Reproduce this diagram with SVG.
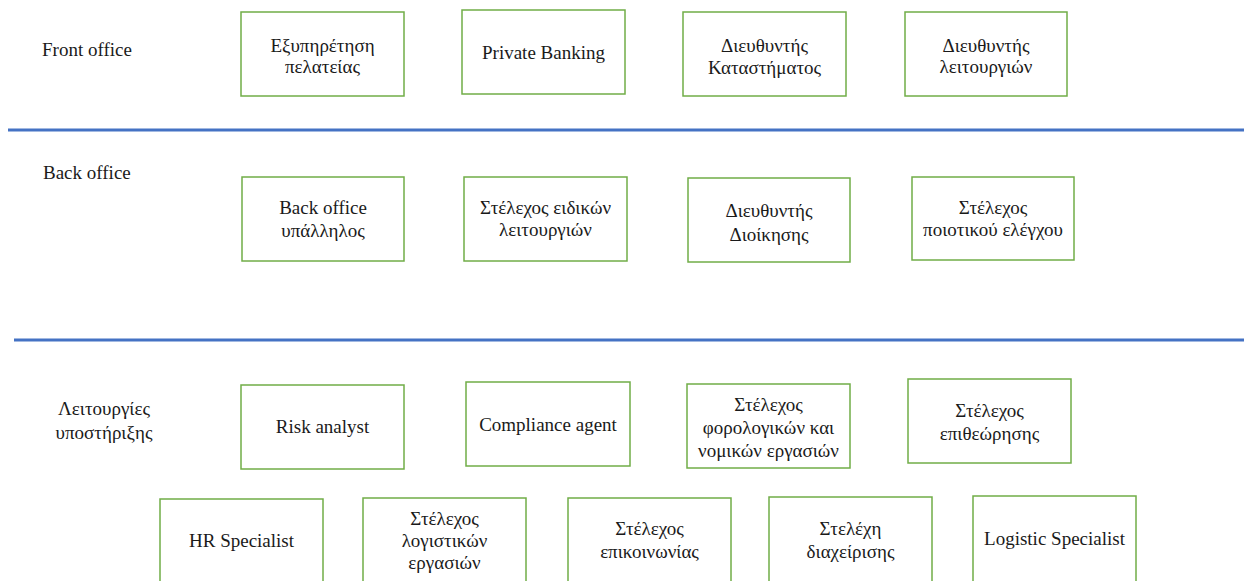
<svg xmlns="http://www.w3.org/2000/svg" width="1244" height="581" viewBox="0 0 1244 581">
<style>
.bg{fill:#ffffff}
.box{fill:#ffffff;stroke:#70AD47;stroke-width:1.5}
.t{font-family:"Liberation Serif","DejaVu Serif",serif;font-size:19px;fill:#1a1a1a;text-anchor:middle}
.lbl{font-family:"Liberation Serif","DejaVu Serif",serif;font-size:19px;fill:#1a1a1a}
.div{stroke:#4472C4;stroke-width:3;fill:none}
</style>
<rect class="bg" x="0" y="0" width="1244" height="581"/>
<g id="dividers">
<line class="div" x1="8" y1="130" x2="1244" y2="130"/>
<line class="div" x1="14" y1="340" x2="1244" y2="340"/>
</g>
<g id="section-labels">
<text class="lbl" x="42" y="56">Front office</text>
<text class="lbl" x="43" y="179">Back office</text>
<text class="t" x="104" y="415">Λειτουργίες</text>
<text class="t" x="104" y="439">υποστήριξης</text>
</g>
<g id="n1"><rect class="box" x="241" y="12" width="163" height="84"/><text class="t" x="322.5" y="52">Εξυπηρέτηση</text><text class="t" x="322.5" y="73">πελατείας</text></g>
<g id="n2"><rect class="box" x="462" y="10" width="163" height="84"/><text class="t" x="543.5" y="59">Private Banking</text></g>
<g id="n3"><rect class="box" x="683" y="12" width="163" height="84"/><text class="t" x="764.5" y="52">Διευθυντής</text><text class="t" x="764.5" y="74">Καταστήματος</text></g>
<g id="n4"><rect class="box" x="905" y="12" width="162" height="84"/><text class="t" x="986" y="52">Διευθυντής</text><text class="t" x="986" y="73">λειτουργιών</text></g>
<g id="n5"><rect class="box" x="242" y="177" width="162" height="84"/><text class="t" x="323" y="214">Back office</text><text class="t" x="323" y="237">υπάλληλος</text></g>
<g id="n6"><rect class="box" x="464" y="177" width="163" height="84"/><text class="t" x="545.5" y="214">Στέλεχος ειδικών</text><text class="t" x="545.5" y="236">λειτουργιών</text></g>
<g id="n7"><rect class="box" x="688" y="178" width="162" height="84"/><text class="t" x="769" y="217">Διευθυντής</text><text class="t" x="769" y="241">Διοίκησης</text></g>
<g id="n8"><rect class="box" x="912" y="177" width="162" height="83"/><text class="t" x="993" y="214">Στέλεχος</text><text class="t" x="993" y="236">ποιοτικού ελέγχου</text></g>
<g id="n9"><rect class="box" x="241" y="385" width="163" height="84"/><text class="t" x="322.5" y="433">Risk analyst</text></g>
<g id="n10"><rect class="box" x="466" y="382" width="164" height="84"/><text class="t" x="548" y="431">Compliance agent</text></g>
<g id="n11"><rect class="box" x="687" y="384" width="163" height="84"/><text class="t" x="768.5" y="411">Στέλεχος</text><text class="t" x="768.5" y="434">φορολογικών και</text><text class="t" x="768.5" y="457">νομικών εργασιών</text></g>
<g id="n12"><rect class="box" x="908" y="379" width="163" height="84"/><text class="t" x="989.5" y="417">Στέλεχος</text><text class="t" x="989.5" y="440">επιθεώρησης</text></g>
<g id="n13"><rect class="box" x="160" y="499" width="163" height="86"/><text class="t" x="241.5" y="547">HR Specialist</text></g>
<g id="n14"><rect class="box" x="363" y="498" width="163" height="87"/><text class="t" x="444.5" y="525">Στέλεχος</text><text class="t" x="444.5" y="547">λογιστικών</text><text class="t" x="444.5" y="569">εργασιών</text></g>
<g id="n15"><rect class="box" x="568" y="498" width="163" height="87"/><text class="t" x="649.5" y="535">Στέλεχος</text><text class="t" x="649.5" y="558">επικοινωνίας</text></g>
<g id="n16"><rect class="box" x="769" y="497" width="163" height="88"/><text class="t" x="850.5" y="535">Στελέχη</text><text class="t" x="850.5" y="558">διαχείρισης</text></g>
<g id="n17"><rect class="box" x="973" y="496" width="163" height="89"/><text class="t" x="1054.5" y="545">Logistic Specialist</text></g>
</svg>
